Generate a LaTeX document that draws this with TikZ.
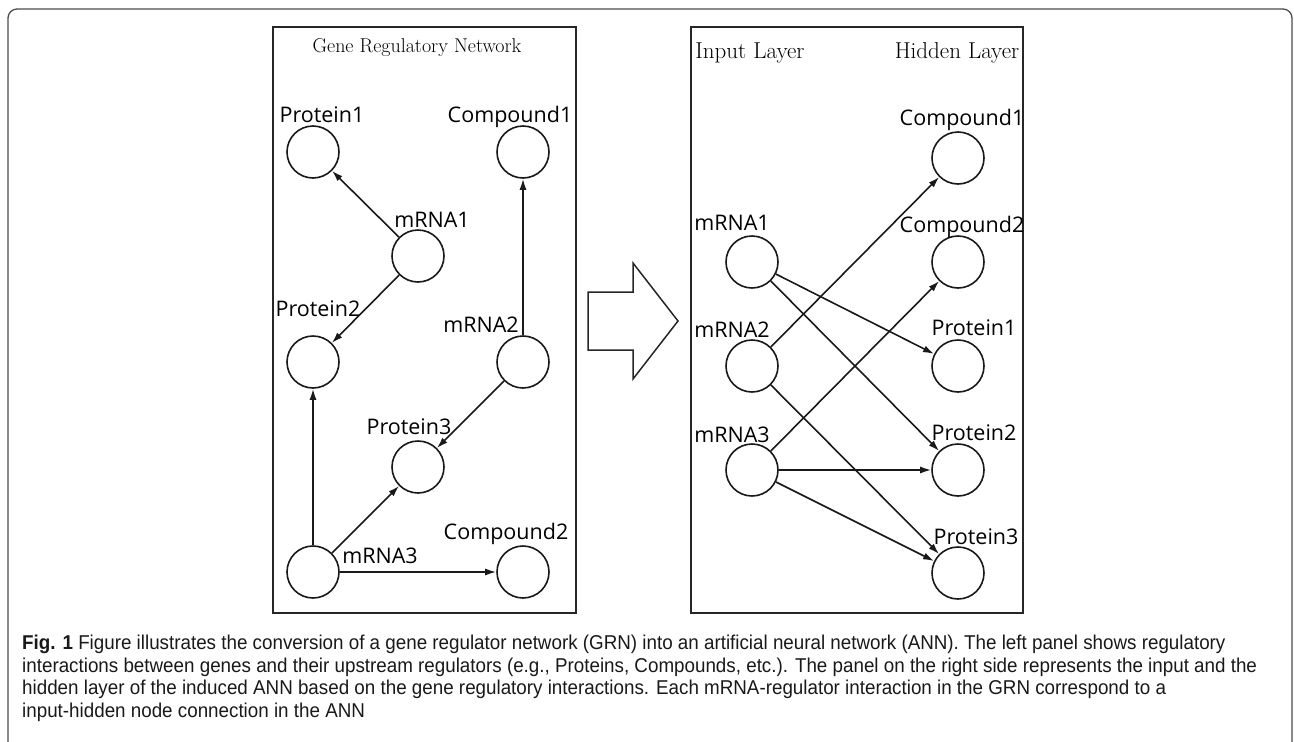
\documentclass[tikz,border=0pt]{standalone}
\usepackage{fontspec}
\usetikzlibrary{arrows.meta}
\newfontfamily\labfont{Open Sans}
\newfontfamily\capfont[FakeStretch=0.94]{Liberation Sans}
\begin{document}
\begin{tikzpicture}[x=1pt,y=-1pt,
  nd/.style={circle,draw=black!90,line width=1.6pt,minimum size=52pt,inner sep=0pt},
  lab/.style={font=\labfont\fontsize{21.5}{25}\selectfont,inner sep=0pt,anchor=base},
  ttlL/.style={font=\fontsize{20}{24}\selectfont,inner sep=0pt,anchor=base},
  ttlR/.style={font=\fontsize{23}{27}\selectfont,inner sep=0pt,anchor=base},
  edge/.style={line width=1.6pt,draw=black!90,-{Latex[length=11pt,width=7pt]}},
  panel/.style={draw=black!85,line width=2.5pt},
  capline/.style={font=\capfont\fontsize{20}{24}\selectfont,inner sep=0pt,anchor=base west,text=black!90},
]
\useasboundingbox (0,0) rectangle (1294,742);
\draw[black!70,line width=1.3pt,rounded corners=9pt] (8,742) -- (8,9) -- (1292,9) -- (1292,742);

% panels
\draw[panel] (273,27) rectangle (576,613);
\draw[panel] (691,27) rectangle (1023,613);

% left panel (GRN)
\node[ttlL] (gT) at (417,52) {Gene Regulatory Network};
\node[nd] (gP1) at (313,152) {};
\node[nd] (gC1) at (523,152) {};
\node[nd] (gM1) at (418,256) {};
\node[nd] (gP2) at (313,362) {};
\node[nd] (gM2) at (523,362) {};
\node[nd] (gP3) at (418,467) {};
\node[nd] (gM3) at (313,572) {};
\node[nd] (gC2) at (523,572) {};
\node[lab] (gP1l) at (322,122) {Protein1};
\node[lab] (gC1l) at (510,122) {Compound1};
\node[lab] (gM1l) at (432,227) {mRNA1};
\node[lab] (gP2l) at (318,316) {Protein2};
\node[lab] (gM2l) at (481,332) {mRNA2};
\node[lab] (gP3l) at (409,434) {Protein3};
\node[lab] (gC2l) at (506,539) {Compound2};
\node[lab] (gM3l) at (380,563) {mRNA3};
\draw[edge] (gM1) -- (gP1);
\draw[edge] (gM1) -- (gP2);
\draw[edge] (gM2) -- (gC1);
\draw[edge] (gM2) -- (gP3);
\draw[edge] (gM3) -- (gP2);
\draw[edge] (gM3) -- (gP3);
\draw[edge] (gM3) -- (gC2);

% block arrow
\draw[line width=1.5pt,draw=black!85,line join=miter] (588,292) -- (633,292) -- (633,263) -- (678,321) -- (633,379) -- (633,350) -- (588,350) -- cycle;

% right panel (ANN)
\node[ttlR] (aTi) at (750,58) {Input Layer};
\node[ttlR] (aTh) at (957,58) {Hidden Layer};
\node[nd] (aM1) at (752,262) {};
\node[nd] (aM2) at (752,366) {};
\node[nd] (aM3) at (752,470) {};
\node[nd] (aC1) at (958,158) {};
\node[nd] (aC2) at (958,262) {};
\node[nd] (aP1) at (958,366) {};
\node[nd] (aP2) at (958,470) {};
\node[nd] (aP3) at (958,573) {};
\node[lab] (aM1l) at (732,230) {mRNA1};
\node[lab] (aM2l) at (732,337) {mRNA2};
\node[lab] (aM3l) at (732,442) {mRNA3};
\node[lab] (aC1l) at (962,125) {Compound1};
\node[lab] (aC2l) at (962,232) {Compound2};
\node[lab] (aP1l) at (974,335) {Protein1};
\node[lab] (aP2l) at (974,440) {Protein2};
\node[lab] (aP3l) at (976,544) {Protein3};
\draw[edge] (aM1) -- (aP1);
\draw[edge] (aM1) -- (aP2);
\draw[edge] (aM2) -- (aC1);
\draw[edge] (aM2) -- (aP3);
\draw[edge] (aM3) -- (aC2);
\draw[edge] (aM3) -- (aP2);
\draw[edge] (aM3) -- (aP3);

% caption
\node[capline] (cap1) at (22,649) {{\bfseries Fig. 1} Figure illustrates the conversion of a gene regulator network (GRN) into an artificial neural network (ANN). The left panel shows regulatory};
\node[capline] (cap2) at (22,672) {interactions between genes and their upstream regulators (e.g., Proteins, Compounds, etc.). The panel on the right side represents the input and the};
\node[capline] (cap3) at (22,694) {hidden layer of the induced ANN based on the gene regulatory interactions. Each mRNA-regulator interaction in the GRN correspond to a};
\node[capline] (cap4) at (22,717) {input-hidden node connection in the ANN};
\end{tikzpicture}
\end{document}
